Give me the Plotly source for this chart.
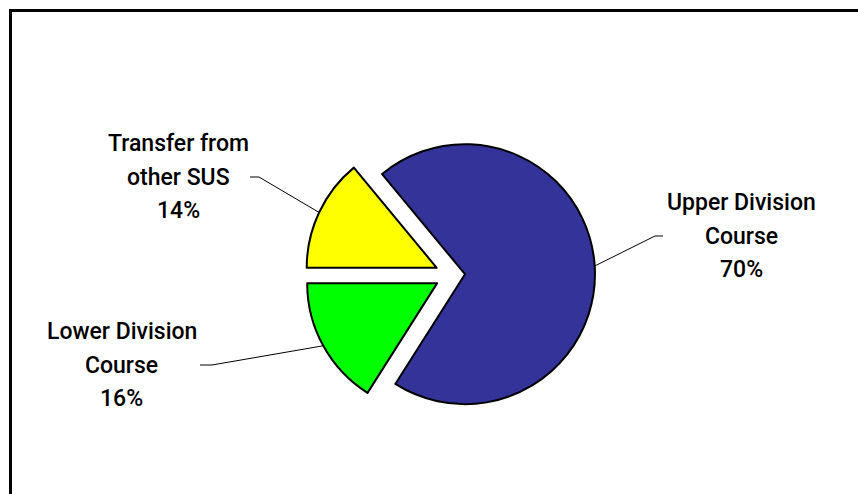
import numpy as np
import plotly.graph_objects as go

# Slice data (clockwise order, starting at 9 o'clock)
categories = ["Transfer from other SUS", "Upper Division Course", "Lower Division Course"]
label_lines = [["Transfer from", "other SUS"], ["Upper Division", "Course"], ["Lower Division", "Course"]]
shares = [14, 70, 16]
slice_colors = ["#FFFF00", "#333399", "#00FF00"]
pulls = [0.13, 0.10, 0.13]

W, H = 858, 494
ROTATION = -90  # first slice starts at 9 o'clock

# Pie placement in pixels
cx, cy, r = 452, 275, 130
max_pull = max(pulls)
half_box = r * (1 + max_pull)
dom_x = [(cx - half_box) / W, (cx + half_box) / W]
dom_y = [1 - (cy + half_box) / H, 1 - (cy - half_box) / H]

# Label block centres (pixels) and leader elbow points next to the text
label_centres = [(178, 177), (741, 236), (122, 365)]
elbows = [[(250, 177), (259, 177)], [(663, 236), (655, 236)], [(200, 365), (212, 365)]]
LINE_GAP = 33.5
LABEL_FONT = "Roboto, Liberation Sans, Arial, sans-serif"

fig = go.Figure(go.Pie(
    labels=categories,
    values=shares,
    sort=False,
    direction="clockwise",
    rotation=ROTATION,
    pull=pulls,
    marker=dict(colors=slice_colors, line=dict(color="black", width=2)),
    textinfo="none",
    hoverinfo="label+percent",
    domain=dict(x=dom_x, y=dom_y),
    showlegend=False,
))

def px_to_paper(x, y):
    return x / W, 1 - y / H

total = sum(shares)
cum = 0.0
shapes = []
annotations = []
for i, v in enumerate(shares):
    mid = np.deg2rad(ROTATION + 360 * (cum + v / 2) / total)
    cum += v
    d = r * (1 + pulls[i])
    ex, ey = cx + d * np.sin(mid), cy - d * np.cos(mid)
    pts = [px_to_paper(*p) for p in elbows[i]] + [px_to_paper(ex, ey)]
    path = "M " + " L ".join(f"{px:.5f},{py:.5f}" for px, py in pts)
    shapes.append(dict(type="path", xref="paper", yref="paper", path=path,
                       line=dict(color="black", width=1)))

    pct = round(100 * v / total)
    lines = label_lines[i] + [f"{pct}%"]
    lx, ly = label_centres[i]
    for k, t in enumerate(lines):
        y = ly + (k - (len(lines) - 1) / 2) * LINE_GAP
        px_, py_ = px_to_paper(lx, y)
        annotations.append(dict(
            x=px_, y=py_, xref="paper", yref="paper", text=t, showarrow=False,
            xanchor="center", yanchor="middle",
            font=dict(family=LABEL_FONT, size=23, color="black", weight=500),
        ))

# Chart frame
shapes.append(dict(type="rect", xref="paper", yref="paper",
                   x0=10.5 / W, y0=-0.05, x1=1.05, y1=1 - 10.5 / H,
                   line=dict(color="black", width=3), fillcolor="rgba(0,0,0,0)"))

fig.update_layout(
    width=W, height=H,
    margin=dict(l=0, r=0, t=0, b=0),
    paper_bgcolor="white",
    plot_bgcolor="white",
    shapes=shapes,
    annotations=annotations,
)

fig.write_html("out.html")
